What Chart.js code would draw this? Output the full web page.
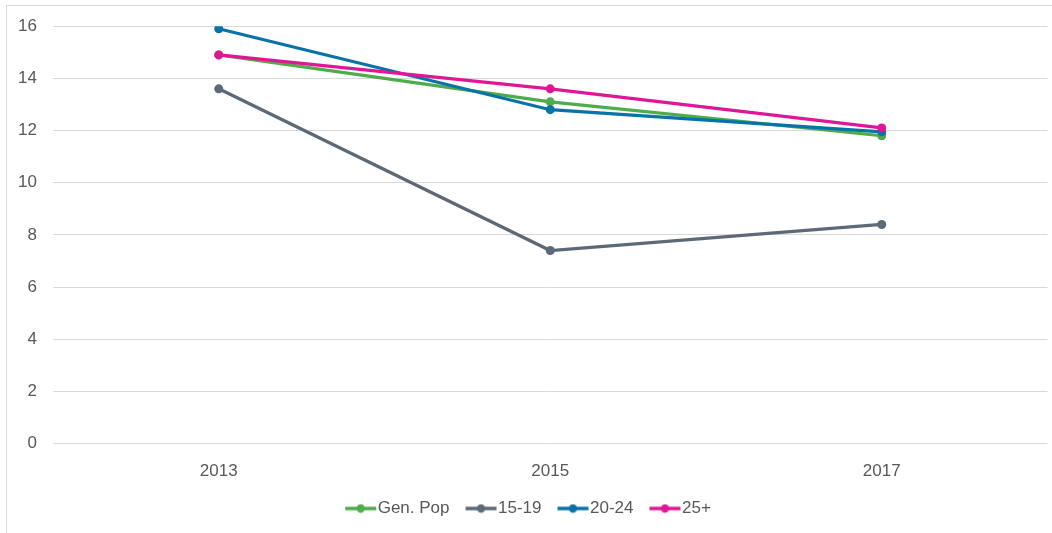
<!DOCTYPE html>
<html>
<head>
<meta charset="utf-8">
<script src="https://cdn.jsdelivr.net/npm/chart.js@4"></script>
<style>
  html, body { margin: 0; padding: 0; background: #fff; overflow: hidden; }
  #frame { position: absolute; left: 6px; top: 5px; width: 2000px; height: 2000px; border: 1px solid #d9d9d9; }
  #wrap { position: absolute; left: 0; top: 0; width: 1052px; height: 533px; }
</style>
</head>
<body>
<div id="frame"></div>
<div id="wrap"><canvas id="chart" width="1052" height="533"></canvas></div>
<script>
// Survey years and series values
const years = ['2013', '2015', '2017'];
const genPop = [14.9, 13.1, 11.8];
const age15to19 = [13.6, 7.4, 8.4];
const age20to24 = [15.9, 12.8, 11.95];
const age25plus = [14.9, 13.6, 12.1];

const seriesNames = ['Gen. Pop', '15-19', '20-24', '25+'];
const seriesColors = ['#4eac4b', '#5d6975', '#0873a8', '#df1797'];
const yTicks = [0, 2, 4, 6, 8, 10, 12, 14, 16];

const FONT = { family: '"Liberation Sans", Arial, sans-serif', size: 17 };
const TEXT = '#595959';

// Legend marker: short line with a dot, shifted right so it sits next to its label
function legendMarker(color) {
  const c = document.createElement('canvas');
  c.width = 48; c.height = 10;
  const g = c.getContext('2d');
  g.strokeStyle = color; g.lineWidth = 3.5; g.lineCap = 'butt';
  g.beginPath(); g.moveTo(16, 5); g.lineTo(47, 5); g.stroke();
  g.fillStyle = color;
  g.beginPath(); g.arc(31.5, 5, 4.2, 0, Math.PI * 2); g.fill();
  return c;
}

const seriesData = [genPop, age15to19, age20to24, age25plus];
const datasets = seriesData.map((d, i) => ({
  label: seriesNames[i],
  data: d,
  borderColor: seriesColors[i],
  backgroundColor: seriesColors[i],
  borderWidth: 3.2,
  pointRadius: 4.5,
  pointHoverRadius: 4.5,
  pointBorderWidth: 0,
  pointStyle: 'circle',
  tension: 0,
  order: seriesData.length - i
}));

const markers = seriesColors.map(legendMarker);

new Chart(document.getElementById('chart'), {
  type: 'line',
  data: { labels: years, datasets },
  options: {
    responsive: false,
    animation: false,
    events: [],
    layout: { padding: { top: 26, right: 4, left: 0, bottom: 6 } },
    scales: {
      x: {
        offset: true,
        grid: { display: false },
        border: { display: false },
        ticks: { color: TEXT, font: FONT, padding: 10 }
      },
      y: {
        min: 0, max: 16,
        afterBuildTicks: (axis) => { axis.ticks = yTicks.map(v => ({ value: v })); },
        afterFit: (axis) => { axis.width = 53; },
        grid: { color: '#d9d9d9', lineWidth: 1, drawTicks: false },
        border: { display: false },
        ticks: { color: TEXT, font: FONT, padding: 16 }
      }
    },
    plugins: {
      tooltip: { enabled: false },
      legend: {
        position: 'bottom',
        labels: {
          color: TEXT,
          font: FONT,
          usePointStyle: true,
          pointStyleWidth: 32,
          padding: 8,
          sort: (a, b) => a.datasetIndex - b.datasetIndex,
          generateLabels: (chart) => chart.data.datasets.map((ds, i) => ({
            text: ds.label,
            fillStyle: ds.borderColor,
            strokeStyle: ds.borderColor,
            fontColor: TEXT,
            lineWidth: 0,
            pointStyle: markers[i],
            hidden: false,
            datasetIndex: i
          }))
        }
      }
    }
  }
});
</script>
</body>
</html>
